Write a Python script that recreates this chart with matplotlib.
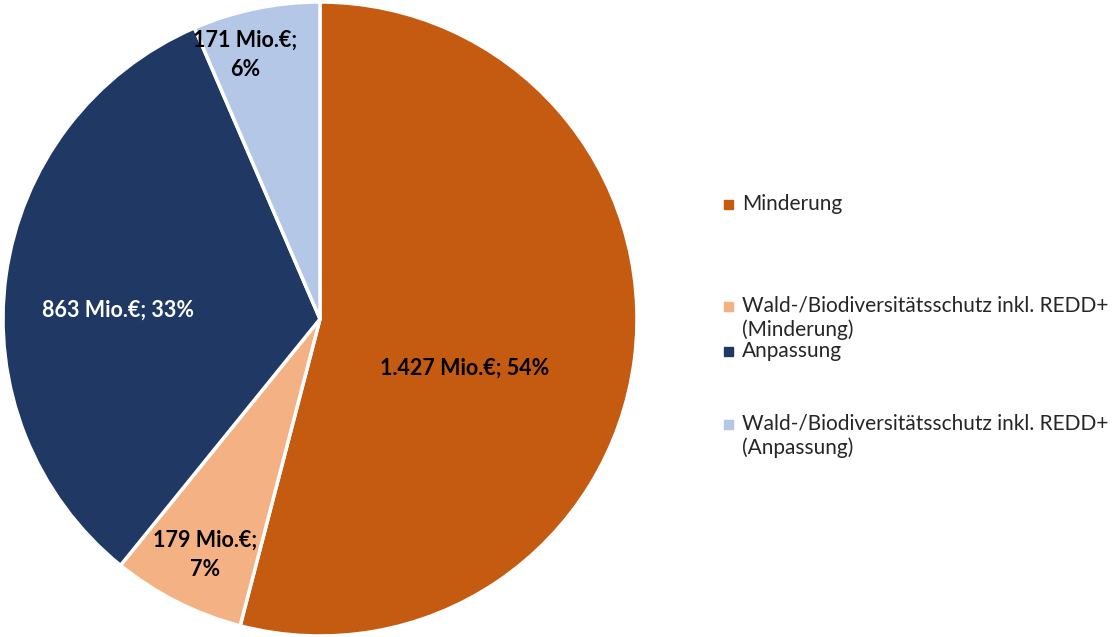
import matplotlib.pyplot as plt
from matplotlib.patches import Rectangle

# Values (Mio. EUR)
categories = [
    'Minderung',
    'Wald-/Biodiversitätsschutz inkl. REDD+\n(Minderung)',
    'Anpassung',
    'Wald-/Biodiversitätsschutz inkl. REDD+\n(Anpassung)',
]
values = [1427, 179, 863, 171]
value_labels = ['1.427 Mio.€; 54%', '179 Mio.€;\n7%', '863 Mio.€; 33%', '171 Mio.€;\n6%']
colors = ['#C55A11', '#F4B183', '#203864', '#B4C7E7']
text_colors = ['black', 'black', 'white', 'black']

plt.rcParams['font.family'] = ['Lato', 'DejaVu Sans']

fig = plt.figure(figsize=(11.17, 6.37), dpi=100)
W, H = 1117, 637
cx, cy, r = 320, 319, 317
ax = fig.add_axes([(cx - r) / W, (H - cy - r) / H, 2 * r / W, 2 * r / H])

wedges, _ = ax.pie(values, colors=colors, startangle=90, counterclock=False,
                   radius=1, wedgeprops=dict(edgecolor='white', linewidth=2.5))
ax.set_xlim(-1, 1)
ax.set_ylim(-1, 1)
ax.set_aspect('equal')

# label positions inside the slices (fraction of radius)
label_pos = [(0.457, -0.155), (-0.363, -0.744), (-0.637, 0.028), (-0.237, 0.833)]
for (x, y), txt, c in zip(label_pos, value_labels, text_colors):
    ax.text(x, y, txt, ha='center', va='center', fontsize=15.5,
            fontweight='bold', color=c, linespacing=1.45)

# legend drawn by hand to match the uneven spacing of the original
legend_y = [204, 306, 351, 424]
for y, lab, col in zip(legend_y, categories, colors):
    fig.patches.append(Rectangle(((728 - 4.5) / W, (H - y - 4.5) / H), 9 / W, 9 / H,
                                 transform=fig.transFigure, color=col))
    for i, line in enumerate(lab.split('\n')):
        fig.text(742 / W, (H - y - i * 24) / H, line, ha='left', va='center',
                 fontsize=15, color='#262626')

fig.savefig('out.png', dpi=100)
